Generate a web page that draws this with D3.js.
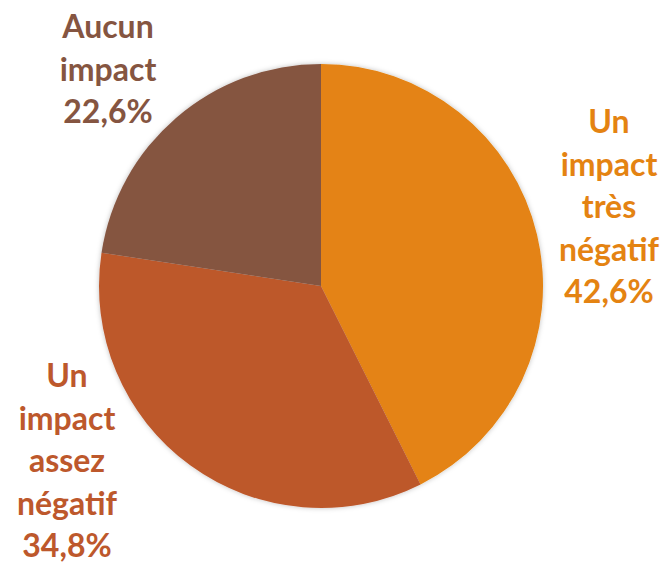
<!DOCTYPE html>
<html>
<head>
<meta charset="utf-8">
<script src="https://cdn.jsdelivr.net/npm/d3@7"></script>
<style>
  body { margin: 0; background: #fff; }
  text { font-family: Lato, "Open Sans", sans-serif; font-weight: 700; }
</style>
</head>
<body>
<div id="chart"></div>
<script>
// data
const categories = ["Un impact très négatif", "Un impact assez négatif", "Aucun impact"]
const values = [42.6, 34.8, 22.6]
const labelLines = [
  ["Un", "impact", "très", "négatif"],
  ["Un", "impact", "assez", "négatif"],
  ["Aucun", "impact"]
]
const colors = ["#E48312", "#BD582C", "#855541"]

// layout
const width = 664, height = 563
const cx = 321, cy = 286, radius = 222
const lineH = 42.5
// label centre x and first baseline y, one per slice
const labelPos = [[609, 133], [67, 387], [108, 38]]

const svg = d3.select("#chart").append("svg")
  .attr("width", width)
  .attr("height", height)

const defs = svg.append("defs")
const f = defs.append("filter").attr("id", "shadow")
  .attr("x", "-10%").attr("y", "-10%").attr("width", "120%").attr("height", "120%")
f.append("feDropShadow")
  .attr("dx", 0).attr("dy", 0).attr("stdDeviation", 2.5)
  .attr("flood-color", "#000").attr("flood-opacity", 0.25)

const pie = d3.pie().sort(null).value(d => d)
const arc = d3.arc().innerRadius(0).outerRadius(radius)

const g = svg.append("g")
  .attr("transform", "translate(" + cx + "," + cy + ")")
  .attr("filter", "url(#shadow)")

g.selectAll("path")
  .data(pie(values))
  .enter().append("path")
  .attr("d", arc)
  .style("fill", (d, i) => colors[i])

// labels
const fmt = v => d3.format(".1f")(v).replace(".", ",") + "%"
labelLines.forEach(function (lines, i) {
  const t = svg.append("text")
    .attr("text-anchor", "middle")
    .style("font-size", "32px")
    .style("fill", colors[i])
  const all = lines.concat([fmt(values[i])])
  all.forEach(function (s, k) {
    t.append("tspan")
      .attr("x", labelPos[i][0])
      .attr("y", labelPos[i][1] + k * lineH)
      .text(s)
  })
})
</script>
</body>
</html>
